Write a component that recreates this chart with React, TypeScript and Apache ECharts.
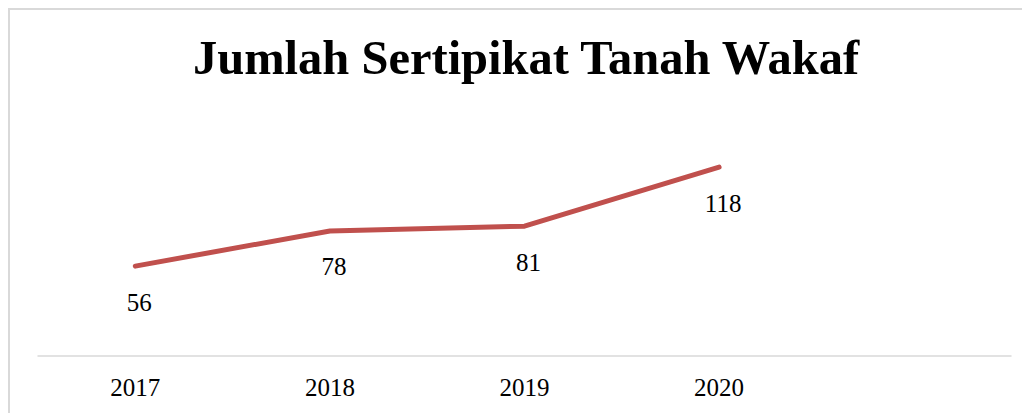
import React, { useEffect, useRef } from "react";
import * as echarts from "echarts";

const categories = ["2017", "2018", "2019", "2020", ""];
const values = [56, 78, 81, 118];
const titleText = "Jumlah Sertipikat Tanah Wakaf";

export default function App() {
  const ref = useRef<HTMLDivElement>(null);
  useEffect(() => {
    document.documentElement.style.overflow = "hidden";
    document.body.style.overflow = "hidden";
    const chart = echarts.init(ref.current!, null, { renderer: "svg" });
    const font = "'Liberation Serif', 'Times New Roman', serif";
    chart.setOption({
      animation: false,
      backgroundColor: "#ffffff",
      title: {
        text: titleText,
        left: 178,
        top: 18,
        textStyle: { fontFamily: font, fontWeight: "bold", fontSize: 48.5, color: "#000000" },
      },
      grid: { left: 28, top: 122, width: 973, height: 223.5, containLabel: false },
      xAxis: {
        type: "category",
        data: categories,
        boundaryGap: true,
        axisLine: { show: true, lineStyle: { color: "#d9d9d9", width: 1.5 } },
        axisTick: { show: false },
        axisLabel: { fontFamily: font, fontSize: 25, color: "#000000", margin: 19 },
        splitLine: { show: false },
      },
      yAxis: {
        type: "value",
        min: 0,
        max: 140,
        show: false,
        splitLine: { show: false },
      },
      series: [
        {
          type: "line",
          data: values,
          symbol: "circle",
          symbolSize: 1,
          showSymbol: true,
          lineStyle: { color: "#C0504D", width: 5, cap: "round" },
          itemStyle: { color: "rgba(0,0,0,0)" },
          label: {
            show: true,
            position: "bottom",
            distance: 23,
            offset: [4, 0],
            fontFamily: font,
            fontSize: 25,
            color: "#000000",
          },
        },
      ],
    });
    return () => chart.dispose();
  }, []);
  return (
    <div style={{ width: 1040, height: 420, border: "2px solid #d9d9d9", borderRight: "none", borderBottom: "none" }}>
      <div ref={ref} style={{ width: 1040, height: 420 }} />
    </div>
  );
}
